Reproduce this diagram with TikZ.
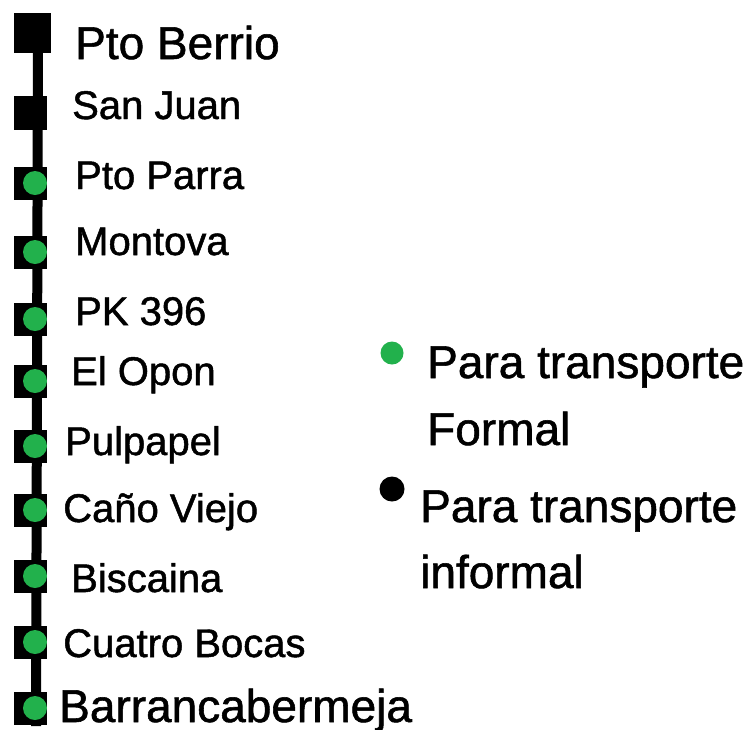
\documentclass[tikz,border=0pt]{standalone}
\usepackage{fontspec}
\setmainfont[FakeBold=1.2,AutoFakeBold=1.2]{Liberation Sans}
\definecolor{verde}{RGB}{34,177,76}
\tikzset{
  cuadro/.style={fill=black, inner sep=0, minimum width=33, minimum height=33},
  punto/.style={circle, fill=verde, inner sep=0, minimum size=24},
  etiqueta/.style={anchor=base west, inner sep=0}
}

\begin{document}
\begin{tikzpicture}[x=1pt, y=-1pt]
  \useasboundingbox (0,0) rectangle (751,729);
  % paradas
  \node[cuadro, minimum width=37, minimum height=40] (s1) at (32.5,33) {};
  \node[cuadro, minimum height=34] (s2) at (30.5,113) {};
  \foreach \i/\py in {3/183, 4/252, 5/319, 6/381, 7/446, 8/510, 9/576, 10/642, 11/708}
    \node[cuadro] (s\i) at (30.5,\py) {};
  % via
  \draw[line width=10] ([xshift=5.5]s1.center) -- ([xshift=5.5,yshift=-18]s11.center);
  \foreach \i in {3,...,11}
    \node[punto] (p\i) at ([xshift=4.5]s\i.center) {};
  % nombres
  \foreach \n/\px/\py/\fs [count=\k] in {Pto Berrio/75/59/46, San Juan/72/119/40, Pto Parra/75/189/40,
      Montova/75/255/40, PK 396/75/325/40, El Opon/71/385/40, Pulpapel/65/455/40,
      Caño Viejo/63/522/40, Biscaina/71/592/40, Cuatro Bocas/63/657/40, Barrancabermeja/59/722/46}
    \node[etiqueta, font=\fontsize{\fs}{\fs}\selectfont] (n\k) at (\px,\py) {\n};
  % leyenda
  \node[punto, minimum size=23] (lf) at (392,353) {};
  \node[punto, fill=black, minimum size=25] (li) at (392,489) {};
  \node[etiqueta, align=left, font=\fontsize{46}{67}\selectfont] (tf) at (427,445) {Para transporte\\Formal};
  \node[etiqueta, align=left, font=\fontsize{46}{66}\selectfont] (ti) at (420,588) {Para transporte\\informal};
\end{tikzpicture}
\end{document}
